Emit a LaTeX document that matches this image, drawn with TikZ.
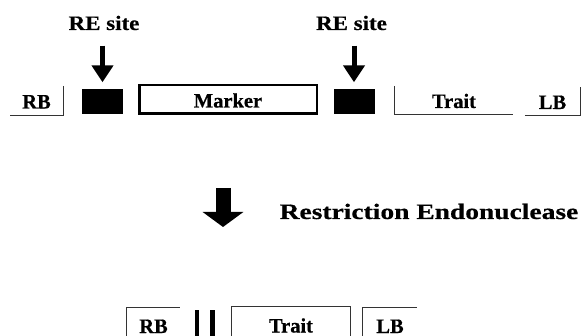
\documentclass[tikz,border=0pt]{standalone}
\usepackage{fontspec}
\setmainfont{Liberation Serif}[BoldFeatures={FakeBold=0.5}]
\newfontfamily\headfont{Liberation Serif}[FakeStretch=1.12, BoldFeatures={FakeBold=0.5}]
\newfontfamily\widefont{Liberation Serif}[FakeStretch=1.25, BoldFeatures={FakeBold=0.5}]
\usetikzlibrary{arrows.meta}
\begin{document}
\begin{tikzpicture}[x=1pt, y=-1pt,
        part/.style={inner sep=0pt, text height=22pt, text depth=6pt, font=\bfseries\fontsize{20.5}{20.5}\selectfont},
        low/.style={part, text height=23pt, text depth=1pt, minimum height=29pt},
        site/.style={fill=black, inner sep=0pt, minimum width=41pt, minimum height=25pt},
        gap/.style={fill=black, inner sep=0pt, minimum width=4.5pt, minimum height=27pt},
        head/.style={font=\headfont\bfseries\fontsize{20.5}{20.5}\selectfont},
        rim/.style={line width=1.2pt, black!80},
        snip/.style={line width=5pt, -{Triangle[width=21pt, length=17pt]}}]

                \useasboundingbox (0, 0) rectangle (585, 336);
                \clip (0, 0) rectangle (585, 336);

                % top strand
                \node[part, minimum width=53pt, minimum height=29pt] (rb) at (36.5, 100.5) {RB};
                \node[site] (site1) at (102.5, 102) {};
                \node[part, draw, line width=2.5pt, minimum width=177.5pt, minimum height=28.5pt] (marker) at (228, 99.5) {Marker};
                \node[site] (site2) at (354, 102) {};
                \node[part, minimum width=118pt, minimum height=28pt] (trait) at (454, 100) {Trait};
                \node[part, minimum width=55pt, minimum height=28pt] (lb) at (552.5, 101) {LB};

                \node[head, anchor=base] (re1) at (104, 30) {RE site};
                \node[head, anchor=base] (re2) at (351.5, 30) {RE site};

                \draw[rim] (rb.north east) -- (rb.south east) -- (rb.south west);
                \draw[rim] (trait.north west) -- (trait.south west) -- (trait.south east);
                \draw[rim] (lb.south west) -- (lb.south east) -- (lb.north east);

                % RE site -> cut site
                \draw[snip, shorten <=12pt, shorten >=7pt] (site1.north |- re1.south) -- (site1.north);
                \draw[snip, shorten <=12pt, shorten >=7pt] (site2.north |- re2.south) -- (site2.north);

                % digestion
                \coordinate (digTop) at (223, 188);
                \coordinate (digTip) at (223, 227);
                \draw[line width=15pt, -{Triangle[width=40pt, length=15pt]}] (digTop) -- (digTip);
                \node[font=\widefont\bfseries\fontsize{22}{22}\selectfont, anchor=base] (enz) at (429, 219) {Restriction Endonuclease};

                % bottom strand
                \node[low, minimum width=53pt] (rb2) at (153.5, 322) {RB};
                \node[gap] (gapL) at (197, 323.5) {};
                \node[gap] (gapR) at (212.5, 323.5) {};
                \node[low, minimum width=118pt] (trait2) at (291, 321.5) {Trait};
                \node[low, minimum width=54pt] (lb2) at (390, 322) {LB};

                \draw[rim] (rb2.south west) -- (rb2.north west) -- (rb2.north east);
                \draw[rim] (trait2.south west) -- (trait2.north west) -- (trait2.north east) -- (trait2.south east);
                \draw[rim] (lb2.south west) -- (lb2.north west) -- (lb2.north east);

\end{tikzpicture}
\end{document}
